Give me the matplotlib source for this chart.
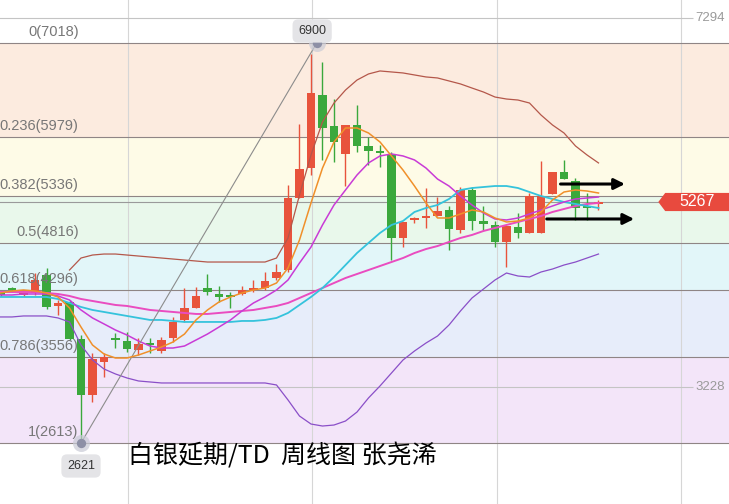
#!/usr/bin/env python3
# -*- coding: utf-8 -*-
"""
Silver T+D weekly chart
Candles, moving averages, Bollinger bands and Fibonacci retracement
"""

import numpy as np
import matplotlib
matplotlib.use('Agg')  # no display
import matplotlib.pyplot as plt
from matplotlib.patches import Polygon

plt.rcParams['font.family'] = ['Liberation Sans', 'Noto Sans CJK SC', 'DejaVu Sans']

# Weekly candles (index 0 = first visible week)
opens = [4265, 4309, 4243, 4265, 4463, 4122, 4166, 3758, 3142, 3505,
         3769, 3736, 3637, 3703, 3626, 3769, 3967, 4100, 4320, 4254,
         4232, 4254, 4298, 4320, 4430, 4518, 5311, 5641, 6445, 6104,
         5796, 6115, 5884, 5829, 5796, 4871, 5069, 5091, 5113, 5179,
         4959, 5399, 5058, 5014, 4827, 4992, 4926, 4926, 5355, 5597,
         5498, 5212, 5245]
highs = [4287, 4331, 4265, 4485, 4540, 4188, 4188, 3802, 3604, 3604,
         3824, 3835, 3769, 3769, 3780, 4001, 4320, 4331, 4474, 4342,
         4276, 4342, 4408, 4496, 4584, 5454, 6126, 6900, 6809, 6401,
         6115, 6335, 5983, 5895, 5818, 5047, 5102, 5421, 5322, 5223,
         5432, 5432, 5223, 5058, 5003, 5146, 5366, 5719, 5597, 5730,
         5531, 5366, 5289]
lows = [4232, 4276, 4232, 4243, 4089, 4023, 3747, 2621, 3065, 3340,
        3659, 3615, 3582, 3604, 3604, 3725, 3945, 4100, 4243, 4166,
        4100, 4243, 4276, 4298, 4408, 4496, 5311, 5564, 5730, 5708,
        5443, 5818, 5674, 5652, 4628, 4771, 5036, 4981, 5113, 4738,
        4926, 4959, 4959, 4771, 4551, 4871, 4926, 4926, 5355, 5520,
        5069, 5069, 5179]
closes = [4243, 4298, 4254, 4408, 4111, 4155, 3758, 3142, 3538, 3560,
          3747, 3648, 3703, 3692, 3747, 3945, 4100, 4232, 4276, 4221,
          4221, 4298, 4309, 4397, 4496, 5311, 5630, 6467, 6082, 5928,
          6115, 5884, 5829, 5807, 4871, 5047, 5080, 5113, 5168, 4970,
          5399, 5058, 5025, 4827, 5003, 4926, 5333, 5333, 5597, 5520,
          5201, 5201, 5267]

# Moving averages
ma_orange = [4265, 4287, 4298, 4287, 4265, 4221, 4100, 3890, 3692, 3593,
             3549, 3549, 3582, 3626, 3670, 3725, 3813, 3968, 4078, 4166,
             4221, 4265, 4298, 4320, 4375, 4540, 4849, 5256, 5641, 5928,
             6082, 6082, 6027, 5928, 5774, 5619, 5443, 5256, 5091, 5091,
             5135, 5179, 5157, 5091, 5047, 5058, 5091, 5157, 5289, 5377,
             5399, 5388, 5366]
ma_violet = [4243, 4243, 4254, 4254, 4254, 4232, 4188, 4078, 3990, 3924,
             3857, 3802, 3736, 3681, 3659, 3659, 3681, 3747, 3813, 3890,
             3968, 4067, 4155, 4221, 4298, 4408, 4595, 4771, 5014, 5234,
             5399, 5564, 5697, 5774, 5796, 5774, 5730, 5641, 5520, 5443,
             5333, 5234, 5146, 5080, 5069, 5091, 5135, 5179, 5223, 5267,
             5300, 5311, 5322]
ma_pink = [4276, 4276, 4276, 4276, 4265, 4254, 4232, 4199, 4177, 4155,
           4133, 4122, 4100, 4078, 4067, 4056, 4045, 4034, 4034, 4045,
           4056, 4067, 4078, 4100, 4122, 4155, 4210, 4265, 4320, 4375,
           4430, 4474, 4518, 4562, 4606, 4650, 4705, 4749, 4782, 4827,
           4871, 4904, 4948, 4981, 5014, 5047, 5080, 5113, 5157, 5190,
           5223, 5245, 5256]
ma_cyan = [4221, 4221, 4221, 4221, 4221, 4199, 4155, 4111, 4078, 4056,
           4034, 4012, 3990, 3968, 3968, 3957, 3946, 3946, 3946, 3946,
           3946, 3957, 3957, 3968, 3990, 4045, 4133, 4221, 4320, 4441,
           4573, 4705, 4816, 4926, 5014, 5058, 5157, 5201, 5234, 5300,
           5399, 5421, 5432, 5443, 5443, 5421, 5377, 5333, 5300, 5267,
           5245, 5223, 5201]

# Bollinger bands
boll_upper = [np.nan, np.nan, np.nan, np.nan, np.nan, np.nan,
              4518, 4650, 4683, 4694, 4694, 4683, 4672, 4661, 4650, 4639,
              4628, 4617, 4606, 4606, 4606, 4606, 4606, 4606, 4650, 4870,
              5344, 5785, 6148, 6357, 6500, 6610, 6677, 6710, 6699, 6688,
              6666, 6644, 6633, 6600, 6567, 6522, 6478, 6423, 6401, 6390,
              6357, 6225, 6115, 6027, 5884, 5785, 5697]
boll_lower = [4001, 4001, 4012, 4012, 4012, 3990, 3946, 3692, 3527, 3428,
              3373, 3329, 3296, 3285, 3274, 3274, 3274, 3274, 3274, 3274,
              3274, 3274, 3274, 3274, 3252, 3087, 2910, 2822, 2800, 2811,
              2855, 2954, 3109, 3241, 3384, 3527, 3626, 3714, 3791, 3912,
              4067, 4210, 4309, 4408, 4485, 4452, 4441, 4496, 4529, 4573,
              4606, 4650, 4694]

# Fibonacci retracement from the 2613 low to the 7018 high
fib_ratios = ['0', '0.236', '0.382', '0.5', '0.618', '0.786', '1']
fib_prices = [7018, 5979, 5336, 4816, 4296, 3556, 2613]
fib_colors = ['#fcebdf', '#fefbe7', '#e9f8eb', '#e2f6f9', '#e7edfa', '#f3e5f9']
fib_anchor_idx = [7, 27.5]

low_label, high_label = '2621', '6900'
low_idx, high_idx = 7, 27
axis_prices = [7294, 3228]
last_price = 5267
week_grid = [11.1, 27.1, 43.15, 59.15]

# hand-drawn arrows: (start index, end index, price)
arrows = [(48.7, 54.3, 5465), (47.5, 55.1, 5080)]

title = '白银延期/TD  周线图 张尧浠'

RED = '#e8533c'
GREEN = '#3aa83c'


def draw_background(ax):
    """Fibonacci zones, grid lines and labels"""
    for top, bottom, color in zip(fib_prices[:-1], fib_prices[1:], fib_colors):
        ax.axhspan(bottom, top, color=color, lw=0, zorder=0)

    for x in week_grid:
        ax.axvline(x, color='#d6d6d6', lw=0.8, zorder=1)

    for p in axis_prices:
        ax.hlines(p, -1, 60.2, color='#c4c4c4', lw=0.8, zorder=1)
        ax.text(63.0, p, str(p), ha='right', va='center', fontsize=9.5,
                color='#9a9a9a', zorder=5)

    for ratio, p in zip(fib_ratios, fib_prices):
        ax.axhline(p, color='#8f8585', lw=0.8, zorder=2)
        ax.annotate(f'{ratio}({p})', (6.8, p), xytext=(0, 3),
                    textcoords='offset points', ha='right', va='bottom',
                    fontsize=10.5, color='#777777', zorder=6)

    # last price line
    ax.axhline(last_price, color='#9a9a9a', lw=0.8, zorder=2)


def draw_candles(ax):
    """Chinese convention: red = up, green = down"""
    x = np.arange(len(opens))
    o = np.array(opens)
    c = np.array(closes)
    colors = [RED if ci >= oi else GREEN for oi, ci in zip(o, c)]
    ax.vlines(x, lows, highs, colors=colors, lw=1.0, zorder=3)
    bottom = np.minimum(o, c)
    height = np.maximum(np.abs(c - o), 18)
    ax.bar(x, height, bottom=bottom, width=0.74, color=colors, lw=0, zorder=4)


def draw_indicators(ax):
    x = np.arange(len(opens))
    ax.plot(x, boll_upper, color='#b4574a', lw=0.9, zorder=5)
    ax.plot(x, boll_lower, color='#8a4fc8', lw=0.9, zorder=5)
    ax.plot(x, ma_pink, color='#ea4cc0', lw=1.4, zorder=5)
    ax.plot(x, ma_cyan, color='#35c3dc', lw=1.3, zorder=5)
    ax.plot(x, ma_violet, color='#c93bd6', lw=1.1, zorder=5)
    ax.plot(x, ma_orange, color='#f0902a', lw=1.1, zorder=6)


def draw_annotations(ax):
    # Fibonacci anchor line
    ax.plot(fib_anchor_idx, [fib_prices[-1], fib_prices[0]], color='#8c8c8c',
            lw=0.8, zorder=5)
    for xi, p in zip(fib_anchor_idx, [fib_prices[-1], fib_prices[0]]):
        ax.scatter(xi, p, s=150, color='#c9cbd6', alpha=0.7, lw=0, zorder=7)
        ax.scatter(xi, p, s=45, color='#8d90a6', lw=0, zorder=8)

    box = dict(boxstyle='round,pad=0.45', fc='#e4e4e7', ec='none')
    ax.text(high_idx + 0.1, 7150, high_label, ha='center', va='center',
            fontsize=9, color='#333333', bbox=box, zorder=8)
    ax.text(low_idx, 2360, low_label, ha='center', va='center',
            fontsize=9, color='#333333', bbox=box, zorder=8)

    for x0, x1, p in arrows:
        ax.annotate('', xy=(x1, p), xytext=(x0, p),
                    arrowprops=dict(arrowstyle='-|>', color='black', lw=2.2,
                                    mutation_scale=16, shrinkA=0, shrinkB=0),
                    zorder=9)

    # last price tag
    h = 100
    tag = Polygon([(57.2, last_price), (57.8, last_price + h), (63.5, last_price + h),
                   (63.5, last_price - h), (57.8, last_price - h)],
                  closed=True, fc='#e84a3e', ec='none', zorder=9)
    ax.add_patch(tag)
    ax.text(60.6, last_price, str(last_price), ha='center', va='center',
            fontsize=11.5, color='white', zorder=10)

    ax.text(11.05, 2480, title, ha='left', va='center', fontsize=18,
            color='black', family=['Noto Sans CJK SC', 'DejaVu Sans'], zorder=10)


def main():
    fig = plt.figure(figsize=(7.29, 5.04), dpi=100)
    ax = fig.add_axes([0, 0, 1, 1])
    ax.set_xlim(-0.0435, 63.348)
    ax.set_ylim(1941.2, 7491.5)
    ax.axis('off')

    draw_background(ax)
    draw_candles(ax)
    draw_indicators(ax)
    draw_annotations(ax)

    fig.savefig('out.png', dpi=100)
    plt.close(fig)


if __name__ == "__main__":
    main()
